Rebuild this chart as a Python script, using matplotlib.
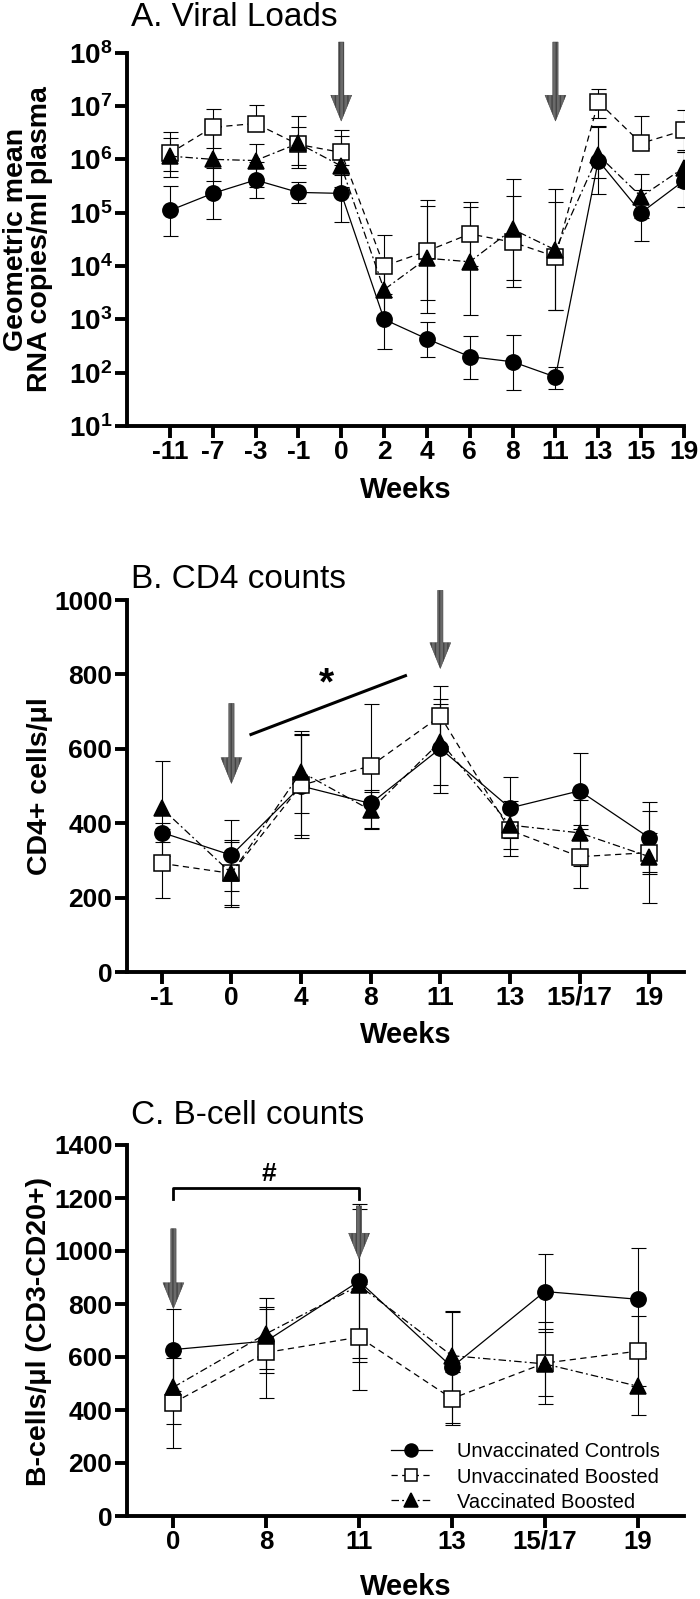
import numpy as np
import matplotlib
matplotlib.use('Agg')
import matplotlib.pyplot as plt
from matplotlib.ticker import FixedLocator, NullLocator

plt.rcParams['font.family'] = ['Liberation Sans', 'DejaVu Sans']
plt.rcParams['mathtext.fontset'] = 'custom'
plt.rcParams['mathtext.rm'] = 'Liberation Sans'
plt.rcParams['mathtext.bf'] = 'Liberation Sans:bold'

# ---------------- data ----------------
# A. viral loads (geometric mean, lower / upper bounds of error bars)
weeks_A = ['-11', '-7', '-3', '-1', '0', '2', '4', '6', '8', '11', '13', '15', '19']
uc_A = [1.1e5, 2.3e5, 4.1e5, 2.4e5, 2.3e5, 1.0e3, 430, 200, 160, 83, 9.5e5, 1.0e5, 4.0e5]
uc_A_lo = [3.6e4, 7.5e4, 1.9e5, 1.5e5, 6.6e4, 280, 200, 75, 48, 50, 2.2e5, 3.0e4, 1.3e5]
uc_A_hi = [3.2e5, 7.0e5, 9.0e5, 3.7e5, 8.0e5, 3.0e3, 900, 480, 500, 130, 4.0e6, 2.7e5, 1.4e6]
ub_A = [1.3e6, 4.0e6, 4.7e6, 1.9e6, 1.35e6, 1.0e4, 1.9e4, 4.0e4, 2.8e4, 1.5e4, 1.2e7, 2.0e6, 3.5e6]
ub_A_lo = [4.6e5, 1.6e6, 3.4e6, 7.0e5, 5.0e5, 2.6e3, 2.3e3, 1.0e4, 4.0e3, 1.5e3, 6.0e6, 1.6e6, 1.4e6]
ub_A_hi = [3.2e6, 8.7e6, 1.05e7, 6.4e6, 3.6e6, 3.8e4, 1.7e5, 1.6e5, 2.1e5, 1.6e5, 2.1e7, 6.5e6, 8.4e6]
vb_A = [1.15e6, 1.0e6, 9.5e5, 2.0e6, 7.5e5, 3.6e3, 1.4e4, 1.2e4, 4.9e4, 2.0e4, 1.2e6, 2.0e5, 7.0e5]
vb_A_lo = [6.0e5, 4.0e5, 3.0e5, 8.0e5, 3.0e5, 9.0e2, 1.3e3, 1.2e3, 5.5e3, 1.5e3, 4.5e5, 8.0e4, 3.0e5]
vb_A_hi = [2.5e6, 4.0e6, 1.9e6, 4.0e6, 2.7e6, 1.4e4, 1.35e5, 1.3e5, 4.3e5, 2.8e5, 4.2e6, 5.3e5, 1.5e6]

# B. CD4 counts
weeks_B = ['-1', '0', '4', '8', '11', '13', '15/17', '19']
uc_B = [375, 314, 500, 453, 601, 441, 487, 361]
uc_B_err = [25, 95, 140, 35, 120, 82, 103, 97]
ub_B = [292, 265, 502, 554, 688, 381, 310, 321]
ub_B_err = [92, 85, 135, 166, 80, 70, 85, 52]
vb_B = [440, 265, 538, 435, 619, 395, 374, 310]
vb_B_err = [128, 90, 110, 50, 115, 65, 88, 124]

# C. B-cell counts
weeks_C = ['0', '8', '11', '13', '15/17', '19']
uc_C = [628, 660, 886, 562, 847, 818]
uc_C_err = [155, 120, 290, 210, 140, 195]
ub_C = [427, 617, 675, 443, 577, 622]
ub_C_err = [170, 170, 200, 100, 155, 133]
vb_C = [486, 688, 870, 605, 574, 490]
vb_C_err = [138, 135, 290, 165, 120, 110]

labels = ['Unvaccinated Controls', 'Unvaccinated Boosted', 'Vaccinated Boosted']

# arrows: (category index, shaft top, tip)
arrows_A = [(4, 10**8.2, 10**6.72), (9, 10**8.2, 10**6.72)]
arrows_B = [(1, 722, 507), (4, 1026, 816)]
arrows_C = [(0, 1084, 783), (2, 1170, 970)]

# ---------------- figure ----------------
W, H = 700, 1599
fig = plt.figure(figsize=(W / 100, H / 100), dpi=100)


def px_axes(left, top, right, bottom):
    return fig.add_axes([left / W, 1 - bottom / H, (right - left) / W, (bottom - top) / H])


axA = px_axes(127, 52.7, 684, 426)
axB = px_axes(127, 600, 684, 972)
axC = px_axes(127, 1145, 684, 1516)

styles = [dict(marker='o', mfc='k', dashes=()),
          dict(marker='s', mfc='white', dashes=(5, 3.5)),
          dict(marker='^', mfc='k', dashes=(6, 2.5, 1.5, 2.5))]
msizes = [11, 11, 11.5]


def draw_series(ax, vals, errs):
    x = np.arange(len(vals[0]))
    handles = []
    for v, e in zip(vals, errs):
        ax.errorbar(x, v, yerr=e, fmt='none', ecolor='k', elinewidth=0.8,
                    capsize=5.4, capthick=0.8, zorder=2)
    for i, v in enumerate(vals):
        st = styles[i]
        ln, = ax.plot(x, v, color='k', lw=0.9, marker=st['marker'], ms=msizes[i],
                      mfc=st['mfc'], mec='k', mew=1.1, label=labels[i], zorder=3 + i * 0.1)
        if st['dashes']:
            ln.set_dashes(st['dashes'])
        handles.append(ln)
    return handles


def add_arrows(ax, arrows):
    for x, top, tip in arrows:
        ax.annotate('', xy=(x, tip), xytext=(x, top), annotation_clip=False,
                    arrowprops=dict(arrowstyle='simple,head_width=1.5,head_length=1.85,tail_width=0.38',
                                    mutation_scale=10, fc='#6a6a6a', ec='#444444', lw=0.4,
                                    hatch='||||', shrinkA=0, shrinkB=0),
                    zorder=6)


def style_axes(ax, ticklabels, xsize, ysize):
    for s in ['top', 'right']:
        ax.spines[s].set_visible(False)
    for s in ['left', 'bottom']:
        ax.spines[s].set_linewidth(2.8)
    ax.tick_params(width=2.8, length=8.5)
    ax.tick_params(axis='x', labelsize=xsize, pad=1.5)
    ax.tick_params(axis='y', labelsize=ysize, pad=2)
    ax.set_xticks(range(len(ticklabels)))
    ax.set_xticklabels(ticklabels)
    for lab in ax.get_xticklabels() + ax.get_yticklabels():
        lab.set_fontweight('bold')


# ---- A ----
errA = []
for v, lo, hi in [(uc_A, uc_A_lo, uc_A_hi), (ub_A, ub_A_lo, ub_A_hi), (vb_A, vb_A_lo, vb_A_hi)]:
    v = np.array(v)
    errA.append([v - np.array(lo), np.array(hi) - v])
draw_series(axA, [uc_A, ub_A, vb_A], errA)
axA.set_yscale('log')
axA.set_ylim(10, 1e8)
axA.set_xlim(-1, 12)
axA.yaxis.set_major_locator(FixedLocator([10.0 ** k for k in range(1, 9)]))
axA.yaxis.set_minor_locator(NullLocator())
axA.set_yticklabels([r'$\mathbf{10^{%d}}$' % k for k in range(1, 9)])
style_axes(axA, weeks_A, 19, 20)
add_arrows(axA, arrows_A)

# ---- B ----
draw_series(axB, [uc_B, ub_B, vb_B], [uc_B_err, ub_B_err, vb_B_err])
axB.set_ylim(0, 1000)
axB.set_xlim(-0.5, len(weeks_B) - 0.5)
axB.set_yticks([0, 200, 400, 600, 800, 1000])
style_axes(axB, weeks_B, 19, 19)
add_arrows(axB, arrows_B)
axB.plot([1.26, 3.52], [637, 798], color='k', lw=2.2, solid_capstyle='butt')
axB.text(2.37, 772, '*', ha='center', va='center', fontsize=28, fontweight='bold')

# ---- C ----
hC = draw_series(axC, [uc_C, ub_C, vb_C], [uc_C_err, ub_C_err, vb_C_err])
axC.set_ylim(0, 1400)
axC.set_xlim(-0.5, len(weeks_C) - 0.5)
axC.set_yticks(range(0, 1401, 200))
style_axes(axC, weeks_C, 18.5, 19)
add_arrows(axC, arrows_C)
axC.plot([0, 0, 2, 2], [1195, 1239, 1239, 1195], color='k', lw=2.0)
axC.text(1.03, 1290, '#', ha='center', va='center', fontsize=19, fontweight='bold')
axC.legend(handles=hC, loc='lower right', bbox_to_anchor=(0.957, 0.012), frameon=False,
           fontsize=14.5, borderpad=0, borderaxespad=0, labelspacing=0.3,
           handlelength=2.05, handletextpad=1.25, markerscale=0.85)


# ---- titles / labels in pixel positions ----
def ftext(x, y, s, **kw):
    fig.text(x / W, 1 - y / H, s, **kw)


ftext(131, 26, 'A. Viral Loads', fontsize=24, va='baseline')
ftext(131, 588, 'B. CD4 counts', fontsize=24, va='baseline')
ftext(131, 1124, 'C. B-cell counts', fontsize=24, va='baseline')

ftext(28, 239, 'Geometric mean\nRNA copies/ml plasma', fontsize=20.5, fontweight='bold',
      rotation=90, ha='center', va='center', linespacing=0.88, multialignment='center')
ftext(40, 786, 'CD4+ cells/μl', fontsize=20.5, fontweight='bold', rotation=90, ha='center', va='center')
ftext(39, 1331, 'B-cells/μl (CD3-CD20+)', fontsize=20.5, fontweight='bold', rotation=90,
      ha='center', va='center')

for yb in [498, 1043, 1595]:
    ftext(406, yb, 'Weeks', fontsize=21, fontweight='bold', ha='center', va='baseline')

fig.savefig('out.png', dpi=100)
